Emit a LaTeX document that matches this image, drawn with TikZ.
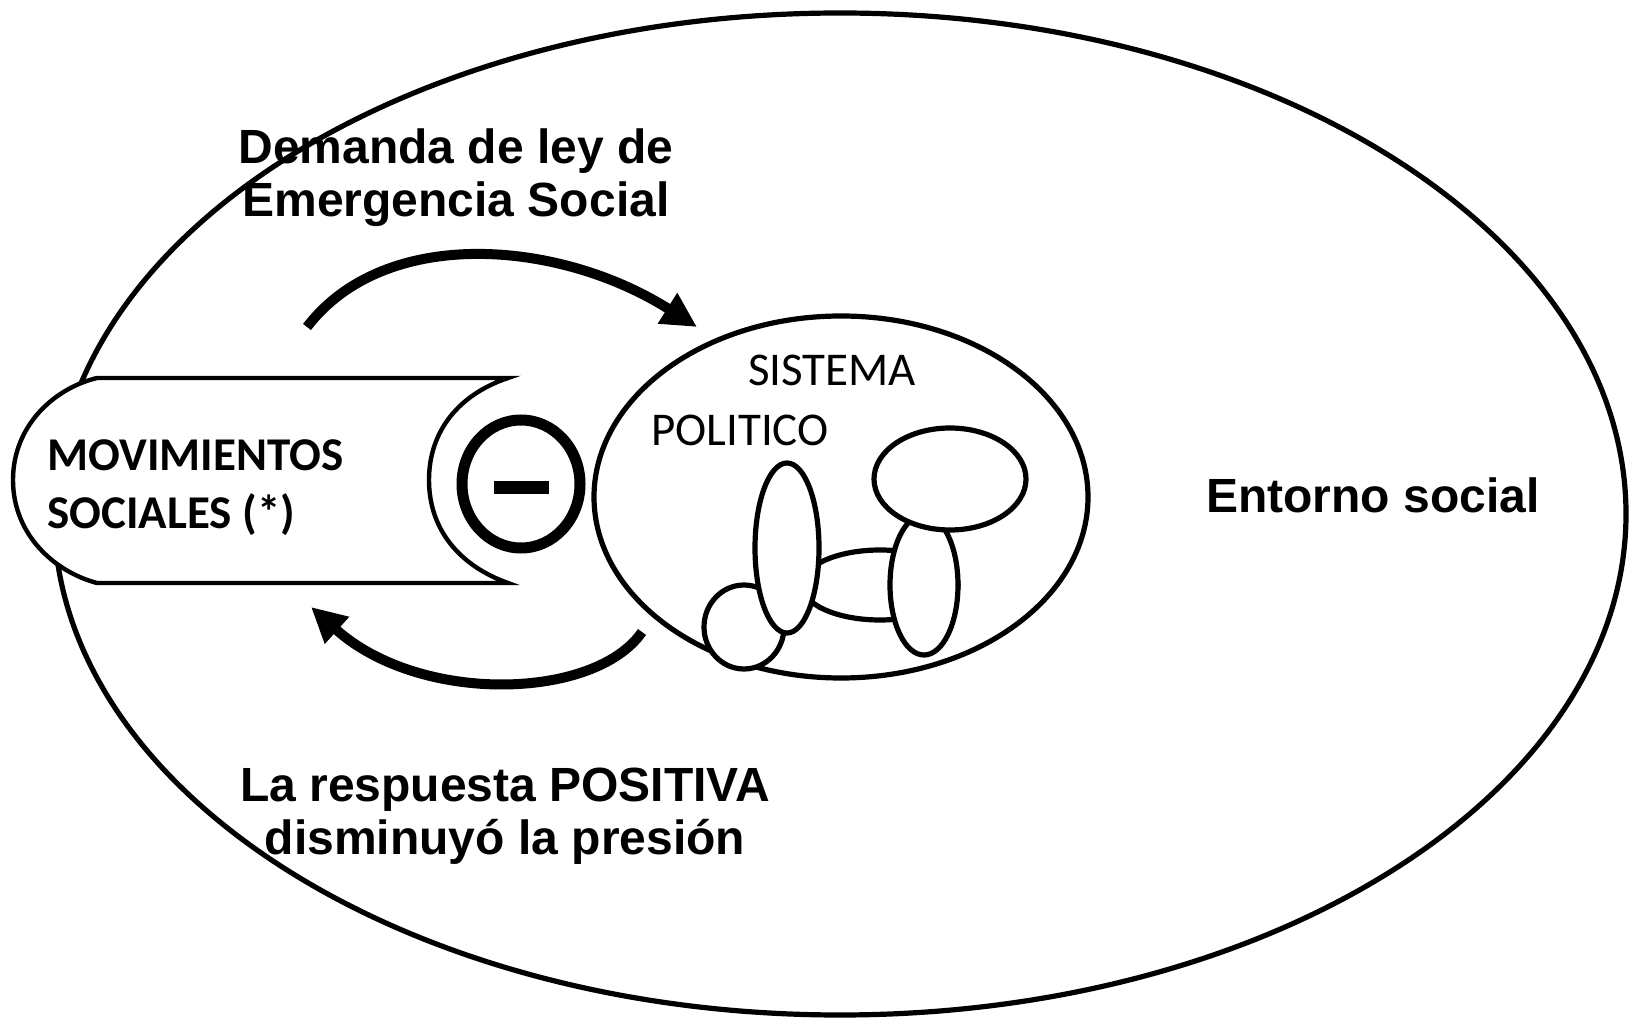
\documentclass[tikz,border=0pt]{standalone}
\usepackage{fontspec}
\usetikzlibrary{shapes.geometric,arrows.meta}
\newfontfamily\arialfont{Liberation Sans}
\newfontfamily\calibrifont{Carlito}

\begin{document}
\begin{tikzpicture}[x=0.5pt,y=-0.5pt,
  blob/.style={draw=black,fill=white,ellipse,inner sep=0pt,line width=2.6pt},
  bigarrow/.style={line width=5pt,-{Triangle[length=17.5pt,width=17pt]}},
  boldlabel/.style={font=\arialfont\bfseries\fontsize{24}{26.5}\selectfont,align=center,inner sep=0pt},
  callabel/.style={font=\calibrifont\fontsize{23.5}{29}\selectfont,inner sep=0pt}]
\useasboundingbox[fill=white] (0,0) rectangle (1633,1020);
% entorno social
\node[blob,minimum width=786pt,minimum height=501pt] (entorno) at (840,514) {};
% movimientos sociales
\draw [black,fill=white,line width=2.2pt] (508,378) -- (97,378)
  .. controls (55,388) and (13,425) .. (13,480)
  .. controls (13,535) and (55,572) .. (97,583) -- (508,583)
  .. controls (460,566) and (429,530) .. (429,480)
  .. controls (429,430) and (460,394) .. (508,378) -- cycle;
\node[callabel,font=\calibrifont\bfseries\fontsize{23.5}{29}\selectfont,align=left,anchor=base west] (movs) at (47,529) {MOVIMIENTOS\\SOCIALES (*)};
% signo menos
\node[draw=black,ellipse,inner sep=0pt,line width=5.5pt,minimum width=59pt,minimum height=64pt] (menos) at (521,484) {};
\fill [black] (494,481) rectangle (549,494);
% sistema politico
\node[blob,minimum width=247pt,minimum height=181pt] (sistema) at (841,497) {};
\node[callabel,anchor=base] (sis1) at (832,386) {SISTEMA};
\node[callabel,anchor=base] (sis2) at (740,446) {POLITICO};
\node[blob,minimum width=40pt,minimum height=42pt] (bola) at (744,627) {};
\node[blob,minimum width=78pt,minimum height=35pt] (puente) at (880,585) {};
\node[blob,minimum width=32pt,minimum height=85pt] (alto) at (787,548) {};
\node[blob,minimum width=34pt,minimum height=70pt] (tallo) at (924,585) {};
\node[blob,minimum width=76pt,minimum height=51pt] (copa) at (950,479) {};
% flechas
\coordinate (dem-a) at (307,327);
\coordinate (dem-b) at (697,327);
\coordinate (resp-a) at (642,632);
\coordinate (resp-b) at (311,607);
\draw [bigarrow] (dem-a) .. controls (385,225) and (560,240) .. (dem-b);
\draw [bigarrow] (resp-a) .. controls (595,700) and (420,705) .. (resp-b);
% textos
\node[boldlabel,anchor=base] (demanda) at (456,217) {Demanda de ley de\\Emergencia Social};
\node[boldlabel,anchor=base] (respuesta) at (505,854) {La respuesta POSITIVA\\disminuyó la presión};
\node[boldlabel,anchor=base] (entornotxt) at (1373,513) {Entorno social};
\end{tikzpicture}
\end{document}
